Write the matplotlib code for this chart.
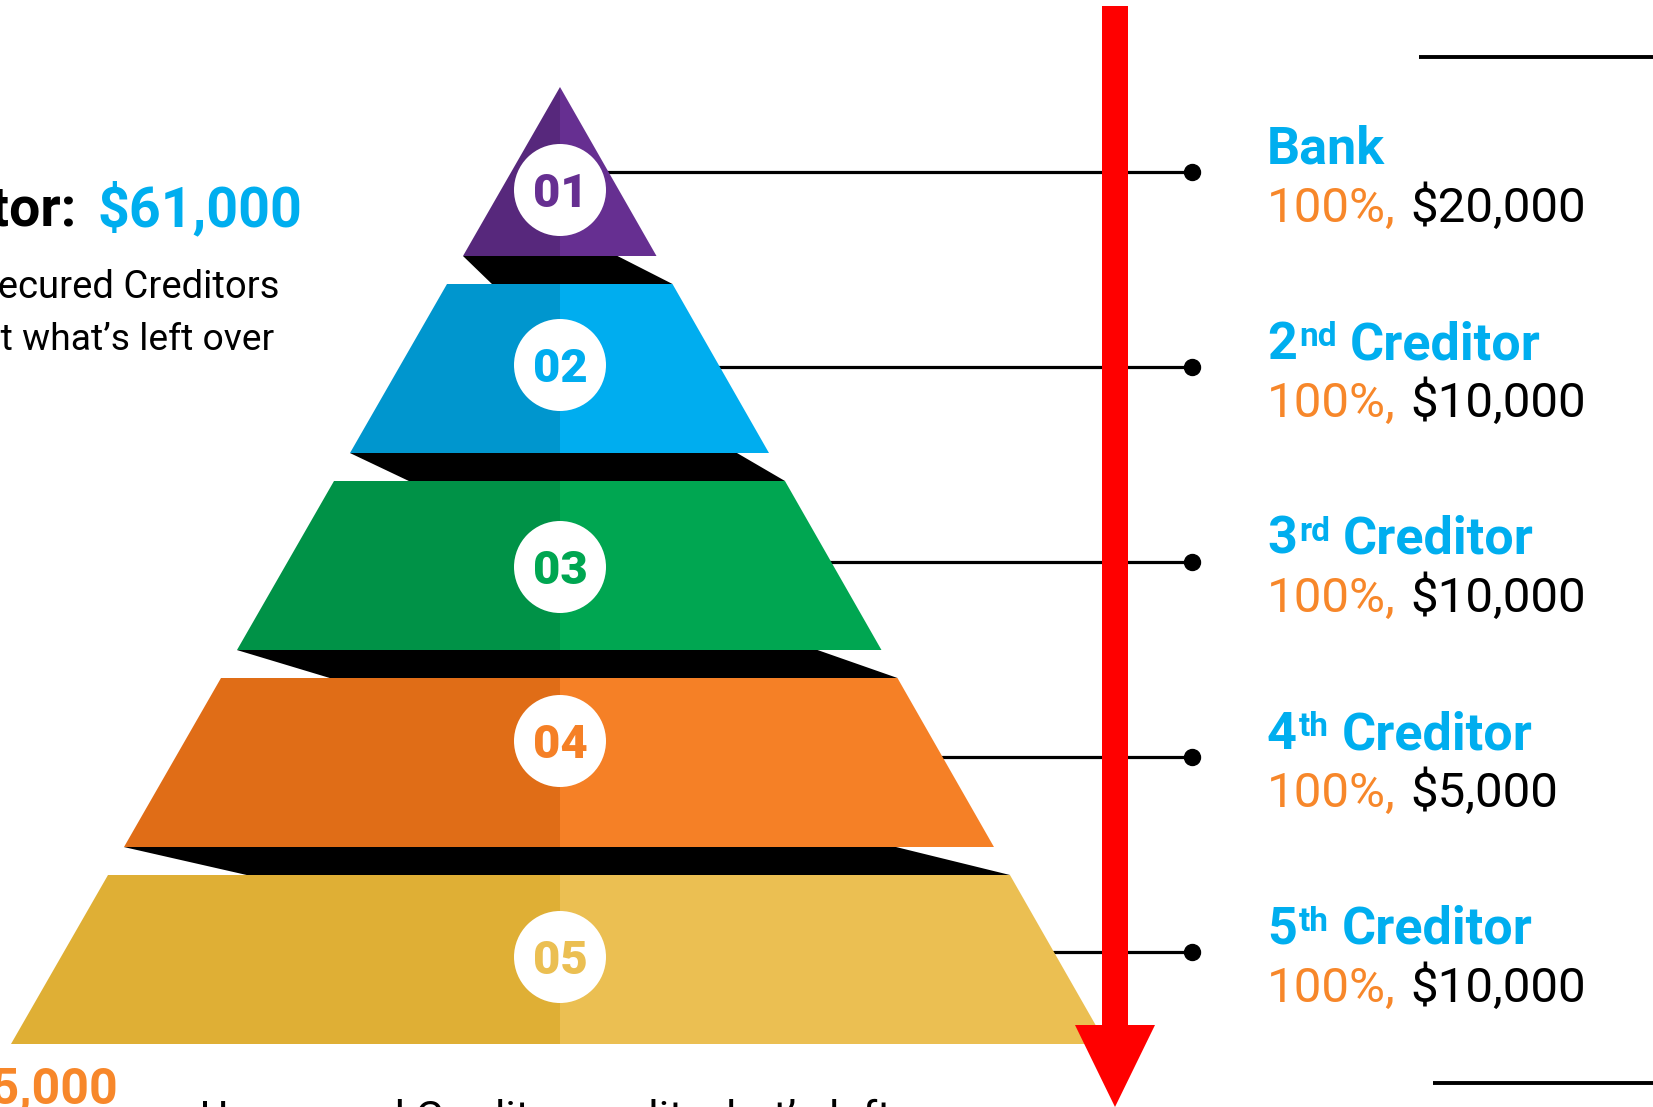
import matplotlib
matplotlib.use("Agg")
import matplotlib.pyplot as plt
from matplotlib.patches import Polygon, Circle

# ---------------- data ----------------
tier_numbers = ["01", "02", "03", "04", "05"]
title_main = ["Bank", "2", "3", "4", "5"]
title_sup = ["", "nd", "rd", "th", "th"]
title_rest = ["", "Creditor", "Creditor", "Creditor", "Creditor"]
percent_paid = [100, 100, 100, 100, 100]
amounts = [20000, 10000, 10000, 5000, 10000]
total_owed = 61000
left_label = "Debtor:"
left_note = ["Unsecured Creditors", "get what\u2019s left over"]
bottom_note = "Unsecured Creditors split what\u2019s left over"

dark_cols = ["#57287C", "#0096CE", "#009247", "#E06D17", "#DFAF35"]
light_cols = ["#662F91", "#00ADEF", "#00A651", "#F58026", "#EBBF52"]
blue_txt = "#00AEEF"
orange_txt = "#F7872A"
red = "#FF0000"

# ---------------- layout ----------------
W, H = 1653, 1107
fig = plt.figure(figsize=(W / 100, H / 100), dpi=100)
ax = fig.add_axes([0, 0, 1, 1])
ax.set_xlim(0, W)
ax.set_ylim(H, 0)
ax.axis("off")
renderer = fig.canvas.get_renderer()

FONT = "Roboto"
cx = 560          # pyramid centre
apex_y = 87
slope_l, slope_r = 0.574, 0.571
tier_h, step = 169, 197
circle_y = [190, 365, 567, 741, 957]
row_y = [172 + 195 * i for i in range(5)]
shadow_l = [45, 75, 109, 139]
shadow_r = [39, 32, 64, 98]


def xl(y):
    return cx - slope_l * (y - apex_y)


def xr(y):
    return cx + slope_r * (y - apex_y)


for i in range(5):
    yt = apex_y + step * i
    yb = yt + tier_h
    left = [(xl(yt), yt), (cx, yt), (cx, yb), (xl(yb), yb)]
    right = [(cx, yt), (xr(yt), yt), (xr(yb), yb), (cx, yb)]
    ax.add_patch(Polygon(left, closed=True, fc=dark_cols[i], ec="none", zorder=2))
    ax.add_patch(Polygon(right, closed=True, fc=light_cols[i], ec="none", zorder=2))
    if i < 4:
        yn = apex_y + step * (i + 1)
        sh = [(xl(yb), yb), (xr(yb) - shadow_r[i], yb), (xr(yn), yn), (xl(yn) + shadow_l[i], yn)]
        ax.add_patch(Polygon(sh, closed=True, fc="black", ec="none", zorder=2))
    # circle + number
    ax.add_patch(Circle((cx, circle_y[i]), 46, fc="white", ec="none", zorder=3))
    ax.text(cx, circle_y[i] + 17, tier_numbers[i], ha="center", va="baseline",
            fontsize=34, fontweight="black", family=FONT, color=light_cols[i], zorder=4)
    # connector
    ax.plot([cx, 1192], [row_y[i], row_y[i]], color="black", lw=2.3, zorder=1,
            solid_capstyle="butt")
    ax.plot([1192], [row_y[i]], "o", color="black", ms=11.5, zorder=3)

# red arrow
arrow = [(1102, 6), (1128, 6), (1128, 1025), (1155, 1025), (1115, 1107),
         (1075, 1025), (1102, 1025)]
ax.add_patch(Polygon(arrow, closed=True, fc=red, ec="none", zorder=5))

# decorative rules
ax.plot([1419, W], [57, 57], color="black", lw=2.8, solid_capstyle="butt")
ax.plot([1433, W], [1083, 1083], color="black", lw=2.8, solid_capstyle="butt")


def draw_pieces(x, y, pieces, align="left"):
    """pieces: list of (text, props, dy, gap_before)"""
    objs = []
    cur = 0.0
    for txt, props, dy, gap in pieces:
        cur += gap
        t = ax.text(0, y + dy, txt, ha="left", va="baseline", **props)
        w = t.get_window_extent(renderer).width
        objs.append((t, cur))
        cur += w
    off = x if align == "left" else x - cur
    for t, px in objs:
        t.set_x(off + px)


# right-hand labels
for i in range(5):
    base_t = row_y[i] - 8
    base_v = row_y[i] + 50
    bold = dict(fontsize=37.5, fontweight="bold", family=FONT, color=blue_txt)
    if title_sup[i]:
        pcs = [(title_main[i], bold, 0, 0),
               (title_sup[i], dict(fontsize=24, fontweight="bold", family=FONT, color=blue_txt), -13, 2),
               (title_rest[i], bold, 0, 13)]
    else:
        pcs = [(title_main[i], bold, 0, 0)]
    draw_pieces(1267, base_t, pcs)
    draw_pieces(1267, base_v, [
        (f"{percent_paid[i]}%,", dict(fontsize=35.5, family=FONT, color=orange_txt), 0, 0),
        (f"${amounts[i]:,}", dict(fontsize=35.5, family=FONT, color="black"), 0, 15),
    ])

# left texts
draw_pieces(302, 226, [
    (left_label, dict(fontsize=40, fontweight="bold", family=FONT, color="black"), 0, 0),
    (f"${total_owed:,}", dict(fontsize=40, fontweight="bold", family=FONT, color=blue_txt), 0, 20),
], align="right")
ax.text(280, 298, left_note[0], ha="right", va="baseline", fontsize=27.5, family=FONT, color="black")
ax.text(274, 350, left_note[1], ha="right", va="baseline", fontsize=26.8, family=FONT, color="black")

# bottom texts
ax.text(118, 1104, f"${sum(amounts):,}", ha="right", va="baseline", fontsize=36,
        fontweight="bold", family=FONT, color=orange_txt)
ax.text(200, 1131, bottom_note, ha="left", va="baseline", fontsize=31, family=FONT, color="black")

fig.savefig("out.png", dpi=100)
